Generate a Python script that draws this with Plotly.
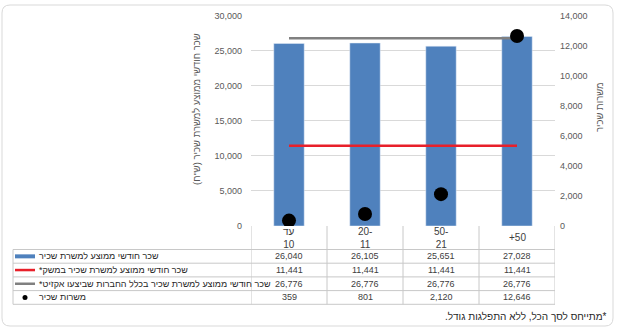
import plotly.graph_objects as go

# ---------------- data ----------------
categories = ["עד<br>10", "20-<br>11", "50-<br>21", "+50"]
avg_salary = [26040, 26105, 25651, 27028]
economy_avg = [11441, 11441, 11441, 11441]
exit_avg = [26776, 26776, 26776, 26776]
positions = [359, 801, 2120, 12646]
series_names = [
    "שכר חודשי ממוצע למשרת שכיר",
    "שכר חודשי ממוצע למשרת שכיר במשק*\u200F",
    "שכר חודשי ממוצע למשרת שכיר בכלל החברות שביצעו אקזיט*\u200F",
    "משרות שכיר",
]
left_title = "שכר חודשי ממוצע למשרת שכיר (ש\"ח)\u200F"
right_title = "משרות שכיר"
footnote = "\u200F*מתייחס לסך הכל, ללא התפלגות גודל.\u200F"
left_ticks = [0, 5000, 10000, 15000, 20000, 25000, 30000]
right_ticks = [0, 2000, 4000, 6000, 8000, 10000, 12000, 14000]

W, H = 619, 333
FONT = "Liberation Sans"


def px(x):
    return x / W


def py(y):
    return 1 - y / H


BLUE = "#4f81bd"
RED = "#e8202a"
GRAY = "#808080"
GRID = "#d9d9d9"
TICK = "#595959"

fig = go.Figure()
fig.add_trace(go.Bar(x=categories, y=avg_salary, marker_color=BLUE, width=0.4,
                     name=series_names[0]))
fig.add_trace(go.Scatter(x=categories, y=economy_avg, mode="lines",
                         line=dict(color=RED, width=2.5), name=series_names[1]))
fig.add_trace(go.Scatter(x=categories, y=exit_avg, mode="lines",
                         line=dict(color=GRAY, width=2.5), name=series_names[2]))
fig.add_trace(go.Scatter(x=categories, y=positions, mode="markers", yaxis="y2",
                         marker=dict(color="black", size=14), name=series_names[3]))

plot_top, plot_bot = 15.7, 226
fig.update_layout(
    width=W, height=H,
    margin=dict(l=0, r=0, t=0, b=0),
    paper_bgcolor="white", plot_bgcolor="white",
    showlegend=False,
    font=dict(family=FONT, size=9, color=TICK),
    xaxis=dict(domain=[px(251), px(555)], range=[-0.5, 3.5], showticklabels=False,
               showgrid=False, zeroline=False, showline=False, automargin=False,
               type="category"),
    yaxis=dict(domain=[py(plot_bot), py(plot_top)], range=[0, 30000],
               tickvals=left_ticks, tickformat=",", gridcolor=GRID, gridwidth=1,
               zeroline=False, showline=False, automargin=False,
               tickfont=dict(family=FONT, size=9, color=TICK), ticklabelstandoff=8),
    yaxis2=dict(overlaying="y", side="right", range=[0, 14000], tickvals=right_ticks,
                tickformat=",", showgrid=False, zeroline=False, showline=False,
                automargin=False, tickfont=dict(family=FONT, size=9, color=TICK),
                ticklabelstandoff=4),
)

shapes = []
annotations = []

# outer rounded frame
x0, y0, x1, y1, r = 2, 5, 613, 326, 8
path = (f"M {px(x0 + r)},{py(y0)} L {px(x1 - r)},{py(y0)} Q {px(x1)},{py(y0)} {px(x1)},{py(y0 + r)} "
        f"L {px(x1)},{py(y1 - r)} Q {px(x1)},{py(y1)} {px(x1 - r)},{py(y1)} "
        f"L {px(x0 + r)},{py(y1)} Q {px(x0)},{py(y1)} {px(x0)},{py(y1 - r)} "
        f"L {px(x0)},{py(y0 + r)} Q {px(x0)},{py(y0)} {px(x0 + r)},{py(y0)} Z")
shapes.append(dict(type="path", path=path, xref="paper", yref="paper",
                   line=dict(color=GRID, width=1), layer="below"))

# data table geometry
TBL_COLOR = "#c8c8c8"
head_top, head_bot = 226, 249.5
row_bounds = [249.5, 263.2, 276.9, 290.6, 304.3]
tbl_left = 13

# horizontal lines
for yb in row_bounds:
    shapes.append(dict(type="line", xref="paper", yref="paper", x0=px(tbl_left), x1=px(555),
                       y0=py(yb), y1=py(yb), line=dict(color=TBL_COLOR, width=1)))
# left border of table
shapes.append(dict(type="line", xref="paper", yref="paper", x0=px(tbl_left), x1=px(tbl_left),
                   y0=py(row_bounds[0]), y1=py(row_bounds[-1]), line=dict(color=TBL_COLOR, width=1)))
# category column boundaries
for i in range(len(categories) + 1):
    shapes.append(dict(type="line", xref="x", yref="paper", x0=i - 0.5, x1=i - 0.5,
                       y0=py(head_top), y1=py(row_bounds[-1]),
                       line=dict(color=TBL_COLOR, width=1)))

# header category labels
for i, c in enumerate(categories):
    annotations.append(dict(x=i, y=py((head_top + head_bot) / 2), xref="x", yref="paper",
                            text=c, showarrow=False, xanchor="center", yanchor="middle",
                            font=dict(family=FONT, size=10, color="#404040")))

# table values
series_values = [avg_salary, economy_avg, exit_avg, positions]
for r_i, vals in enumerate(series_values):
    yc = (row_bounds[r_i] + row_bounds[r_i + 1]) / 2
    for i, v in enumerate(vals):
        annotations.append(dict(x=i, y=py(yc), xref="x", yref="paper", text=f"{v:,}",
                                showarrow=False, xanchor="center", yanchor="middle",
                                font=dict(family=FONT, size=9, color="#404040")))
    annotations.append(dict(x=px(37), y=py(yc), xref="paper", yref="paper",
                            text=series_names[r_i], showarrow=False, xanchor="left",
                            yanchor="middle", font=dict(family=FONT, size=9, color="#262626")))

# legend swatches
c1 = (row_bounds[0] + row_bounds[1]) / 2
c2 = (row_bounds[1] + row_bounds[2]) / 2
c3 = (row_bounds[2] + row_bounds[3]) / 2
c4 = (row_bounds[3] + row_bounds[4]) / 2
shapes.append(dict(type="rect", xref="paper", yref="paper", x0=px(15), x1=px(35),
                   y0=py(c1 + 2), y1=py(c1 - 2), fillcolor=BLUE, line=dict(width=0)))
shapes.append(dict(type="line", xref="paper", yref="paper", x0=px(15), x1=px(35),
                   y0=py(c2), y1=py(c2), line=dict(color=RED, width=2.5)))
shapes.append(dict(type="line", xref="paper", yref="paper", x0=px(15), x1=px(35),
                   y0=py(c3), y1=py(c3), line=dict(color=GRAY, width=2.5)))
shapes.append(dict(type="circle", xref="paper", yref="paper", x0=px(22.5), x1=px(27.5),
                   y0=py(c4 + 2.5), y1=py(c4 - 2.5), fillcolor="black", line=dict(width=0)))

# axis titles
annotations.append(dict(x=px(196), y=py(109), xref="paper", yref="paper", text=left_title,
                        textangle=-90, showarrow=False, xanchor="center", yanchor="middle",
                        font=dict(family=FONT, size=9.5, color=TICK)))
annotations.append(dict(x=px(600), y=py(107), xref="paper", yref="paper", text=right_title,
                        textangle=-90, showarrow=False, xanchor="center", yanchor="middle",
                        font=dict(family=FONT, size=9.5, color=TICK)))

# footnote
annotations.append(dict(x=px(609), y=py(316), xref="paper", yref="paper", text=footnote,
                        showarrow=False, xanchor="right", yanchor="middle",
                        font=dict(family=FONT, size=10, color="#262626")))

fig.update_layout(shapes=shapes, annotations=annotations)
fig.write_html("out.html")
